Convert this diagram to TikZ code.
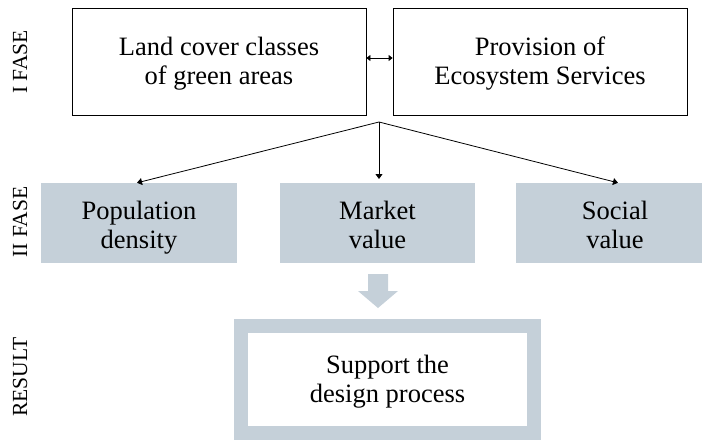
\documentclass[tikz,border=0pt]{standalone}
\usepackage{fontspec}
\setmainfont{Liberation Serif}
\usetikzlibrary{arrows.meta}
\definecolor{boxgray}{RGB}{197,208,217}
\newcommand{\tl}[1]{\strut#1}
\tikzset{
  phase/.style={rotate=90, font=\fontsize{21.5}{24}\selectfont, inner sep=0pt},
  whitebox/.style={draw=black, line width=0.8pt, fill=white, inner sep=0pt, minimum height=107pt},
  graybox/.style={fill=boxgray, inner sep=0pt, minimum height=80pt},
  resultbox/.style={draw=boxgray, line width=14pt, fill=white, inner sep=0pt,
    minimum width=293pt, minimum height=107pt},
  txt/.style={align=center, inner sep=0pt, font=\fontsize{26.5}{29}\selectfont},
  conn/.style={line width=0.8pt, -{Triangle[length=5pt,width=7pt]}},
  dconn/.style={line width=0.8pt, {Triangle[length=4pt,width=6pt]}-{Triangle[length=4pt,width=6pt]}}
}
\begin{document}
\begin{tikzpicture}[x=1pt,y=-1pt]
\useasboundingbox (0,0) rectangle (702,440);
% phase labels
\node[phase] (p1) at (20,62) {I FASE};
\node[phase] (p2) at (20,222) {II FASE};
\node[phase] (p3) at (20,377) {RESULT};
% first phase
\node[whitebox, minimum width=294pt] (lc) at (219,61.5) {};
\node[whitebox, minimum width=294pt] (es) at (540,61.5) {};
\node[txt] (lct) at ([yshift=-3pt]lc.center) {\tl{Land cover classes}\\\tl{of green areas}};
\node[txt] (est) at ([yshift=-3pt]es.center) {\tl{Provision of}\\\tl{Ecosystem Services}};
\draw[dconn] ([yshift=3.5pt]lc.east) -- ([yshift=3.5pt]es.west);
% second phase
\node[graybox, minimum width=196pt] (pd) at (139,223) {};
\node[graybox, minimum width=195pt] (mv) at (377.5,223) {};
\node[graybox, minimum width=198pt] (sv) at (615,223) {};
\node[txt] (pdt) at ([yshift=-5.5pt]pd.center) {\tl{Population}\\\tl{density}};
\node[txt] (mvt) at ([yshift=-5.5pt]mv.center) {\tl{Market}\\\tl{value}};
\node[txt] (svt) at ([yshift=-5.5pt]sv.center) {\tl{Social}\\\tl{value}};
\coordinate (fork) at (379,122);
\coordinate (mid) at (379,179);
\draw[conn] (fork) -- ([xshift=-2pt]pd.north);
\draw[conn] (fork) -- (mid);
\draw[conn] (fork) -- ([xshift=3pt]sv.north);
% block arrow
\fill[boxgray] (368,274) -- (388,274) -- (388,291) -- (398,291) -- (378,308) -- (358,291) -- (368,291) -- cycle;
% result
\node[resultbox] (res) at (387.5,379.5) {};
\node[txt] (rest) at ([yshift=-2.5pt]res.center) {\tl{Support the}\\\tl{design process}};
\end{tikzpicture}
\end{document}
